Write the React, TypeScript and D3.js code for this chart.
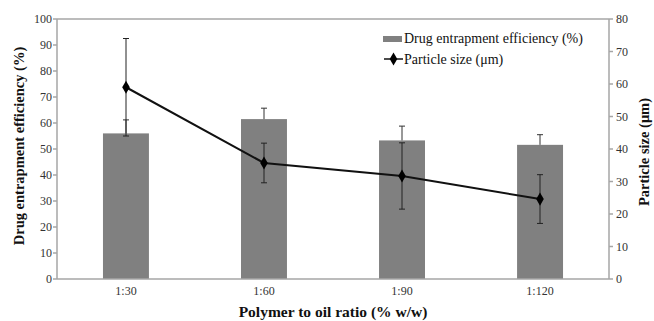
import React from "react";
import * as d3 from "d3";

const categories = ["1:30", "1:60", "1:90", "1:120"];
const efficiency = [56, 61.5, 53.3, 51.6];
const efficiencyErr = [5.2, 4.2, 5.5, 3.9];
const particleSize = [59, 35.7, 31.7, 24.6];
const particleErr = [15, 6.1, 10.2, 7.5];
const leftTicks = [0, 10, 20, 30, 40, 50, 60, 70, 80, 90, 100];
const rightTicks = [0, 10, 20, 30, 40, 50, 60, 70, 80];

const W = 654;
const H = 321;
const margin = { left: 57, right: 45, top: 19, bottom: 42 };
const FONT = "'Liberation Serif', 'Times New Roman', serif";
const AXIS = "#a6a6a6";
const BAR = "#808080";

export default function App() {
  const x = d3
    .scaleBand<string>()
    .domain(categories)
    .range([margin.left, W - margin.right])
    .paddingInner(0.667)
    .paddingOuter(0.333);
  const band = d3.scaleBand<string>().domain(categories).range([margin.left, W - margin.right]);
  const yL = d3.scaleLinear().domain([0, 100]).range([H - margin.bottom, margin.top]);
  const yR = d3.scaleLinear().domain([0, 80]).range([H - margin.bottom, margin.top]);
  const cx = (c: string) => (band(c) as number) + band.bandwidth() / 2;
  const x0 = margin.left;
  const x1 = W - margin.right;
  const yb = H - margin.bottom;

  const line = d3
    .line<number>()
    .x((_, i) => cx(categories[i]))
    .y((d) => yR(d));

  const diamond = d3.symbol().type(d3.symbolDiamond).size(50)() as string;

  return (
    <svg width={W} height={H} style={{ position: "absolute", left: 0, top: 0, background: "#fff" }}>
      {/* bars */}
      {categories.map((c, i) => (
        <rect key={c} x={x(c)} y={yL(efficiency[i])} width={x.bandwidth()} height={yb - yL(efficiency[i])} fill={BAR} />
      ))}
      {/* bar error bars (plus direction) */}
      {categories.map((c, i) => {
        const xc = cx(c);
        const top = yL(efficiency[i] + efficiencyErr[i]);
        return (
          <g key={"be" + c} stroke="#333" strokeWidth={1}>
            <line x1={xc} x2={xc} y1={yL(efficiency[i])} y2={top} />
            <line x1={xc - 3} x2={xc + 3} y1={top} y2={top} />
          </g>
        );
      })}
      {/* axes frame */}
      <g stroke={AXIS} strokeWidth={1.5} fill="none">
        <line x1={x0} x2={x0} y1={margin.top} y2={yb} />
        <line x1={x0} x2={x1} y1={yb} y2={yb} />
        <line x1={x0} x2={x1} y1={margin.top} y2={margin.top} />
        <line x1={x1} x2={x1} y1={margin.top} y2={yb} />
        {leftTicks.map((t) => (
          <line key={"lt" + t} x1={x0 - 4} x2={x0} y1={yL(t)} y2={yL(t)} />
        ))}
        {rightTicks.map((t) => (
          <line key={"rt" + t} x1={x1} x2={x1 + 4} y1={yR(t)} y2={yR(t)} />
        ))}
      </g>
      {/* particle size error bars */}
      {categories.map((c, i) => {
        const xc = cx(c);
        const lo = yR(particleSize[i] - particleErr[i]);
        const hi = yR(particleSize[i] + particleErr[i]);
        return (
          <g key={"pe" + c} stroke="#222" strokeWidth={1}>
            <line x1={xc} x2={xc} y1={lo} y2={hi} />
            <line x1={xc - 3} x2={xc + 3} y1={lo} y2={lo} />
            <line x1={xc - 3} x2={xc + 3} y1={hi} y2={hi} />
          </g>
        );
      })}
      {/* particle size line */}
      <path d={line(particleSize) as string} fill="none" stroke="#111" strokeWidth={2} />
      {particleSize.map((v, i) => (
        <path key={"m" + i} d={diamond} transform={`translate(${cx(categories[i])},${yR(v)})`} fill="#000" />
      ))}
      {/* tick labels */}
      <g fontFamily={FONT} fontSize={12} fill="#333">
        {leftTicks.map((t) => (
          <text key={"ll" + t} x={x0 - 5} y={yL(t)} dy="0.35em" textAnchor="end">
            {t}
          </text>
        ))}
        {rightTicks.map((t) => (
          <text key={"rl" + t} x={x1 + 7} y={yR(t)} dy="0.35em" textAnchor="start">
            {t}
          </text>
        ))}
        {categories.map((c) => (
          <text key={"xl" + c} x={cx(c)} y={yb + 16} textAnchor="middle">
            {c}
          </text>
        ))}
      </g>
      {/* axis titles */}
      <g fontFamily={FONT} fontWeight="bold" fill="#111">
        <text x={(x0 + x1) / 2} y={H - 4} textAnchor="middle" fontSize={15.5}>
          Polymer to oil ratio (% w/w)
        </text>
        <text transform={`translate(24,146) rotate(-90)`} textAnchor="middle" fontSize={14.5}>
          Drug entrapment efficiency (%)
        </text>
        <text transform={`translate(649,152) rotate(-90)`} textAnchor="middle" fontSize={14.5}>
          Particle size (μm)
        </text>
      </g>
      {/* legend */}
      <g fontFamily={FONT} fontSize={14} fill="#111">
        <rect x={383} y={36} width={19} height={6} fill={BAR} />
        <text x={404} y={43}>Drug entrapment efficiency (%)</text>
        <line x1={384} x2={403} y1={59} y2={59} stroke="#111" strokeWidth={1.5} />
        <path d={diamond} transform="translate(393.5,59)" fill="#000" />
        <text x={404} y={63.5}>Particle size (μm)</text>
      </g>
    </svg>
  );
}
